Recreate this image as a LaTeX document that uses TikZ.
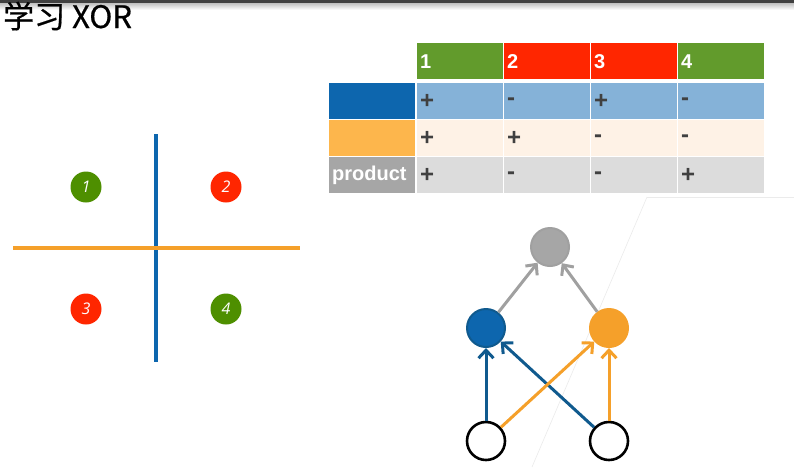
\documentclass[tikz,border=0pt]{standalone}
\usepackage{fontspec}
\newfontfamily\cjk[FakeBold=0.6]{Noto Sans CJK SC}
\newfontfamily\tabfont{Liberation Sans}
\newfontfamily\numfont{Open Sans}
\usetikzlibrary{arrows.meta}
\definecolor{hdgreen}{HTML}{629B2C}
\definecolor{hdred}{HTML}{FF2600}
\definecolor{keyblue}{HTML}{0D66AE}
\definecolor{paleblue}{HTML}{85B2D8}
\definecolor{keyorange}{HTML}{FDB64C}
\definecolor{paleorange}{HTML}{FEF2E6}
\definecolor{keygray}{HTML}{A6A6A6}
\definecolor{palegray}{HTML}{DCDCDC}
\definecolor{signtext}{HTML}{404040}
\definecolor{dotgreen}{HTML}{4E8F00}
\definecolor{axisorange}{HTML}{F5A02A}
\definecolor{edgeblue}{HTML}{105A8E}
\definecolor{edgegray}{HTML}{A0A0A0}
\tikzset{
  cell/.style = {anchor = north west, minimum height = 36pt, text width = 80pt,
    inner xsep = 3pt, inner ysep = 0pt, align = left,
    font = \tabfont\bfseries\fontsize{24}{24}\selectfont, text = signtext},
  hdr/.style = {cell, text = white, font = \tabfont\bfseries\fontsize{20}{20}\selectfont},
  dot/.style = {circle, minimum size = 31pt, inner sep = 0pt, text = white,
    font = \numfont\itshape\fontsize{16}{16}\selectfont},
  unit/.style = {circle, minimum size = 38pt, inner sep = 0pt, line width = 2pt},
  link/.style = {line width = 3pt, -{Straight Barb[length = 8pt, width = 15pt]}}
}
\begin{document}
\begin{tikzpicture}[x = 1pt, y = -1pt]
    \useasboundingbox (0,0) rectangle (794,467);
    \fill[white] (0,0) rectangle (794,467);
    \shade[top color = black!25, bottom color = white] (0,3) rectangle (794,10);
    \fill[black!75] (0,0) rectangle (794,3);
    \node[anchor = base west, inner sep = 0pt, font = \cjk\fontsize{31}{31}\selectfont] (title) at (3,28) {学习 XOR};
    \begin{scope}[style = {draw = black!8, line width = 0.6pt}]
        \draw (647,197) -- (532,467);
        \draw (647,197) -- (794,197);
    \end{scope}
    \node[hdr, fill = hdgreen] (h1) at (417,43) {1};
    \node[hdr, fill = hdred] (h2) at (504,43) {2};
    \node[hdr, fill = hdred] (h3) at (591,43) {3};
    \node[hdr, fill = hdgreen] (h4) at (678,43) {4};
    \begin{scope}[every node/.append style = {fill = paleblue}]
        \node[cell, fill = keyblue] (k1) at (329,83) {};
        \node[cell] (r1c1) at (417,83) {+};
        \node[cell] (r1c2) at (504,83) {-};
        \node[cell] (r1c3) at (591,83) {+};
        \node[cell] (r1c4) at (678,83) {-};
    \end{scope}
    \begin{scope}[every node/.append style = {fill = paleorange}]
        \node[cell, fill = keyorange] (k2) at (329,120) {};
        \node[cell] (r2c1) at (417,120) {+};
        \node[cell] (r2c2) at (504,120) {+};
        \node[cell] (r2c3) at (591,120) {-};
        \node[cell] (r2c4) at (678,120) {-};
    \end{scope}
    \begin{scope}[every node/.append style = {fill = palegray}]
        \node[hdr, fill = keygray] (k3) at (329,157) {product};
        \node[cell] (r3c1) at (417,157) {+};
        \node[cell] (r3c2) at (504,157) {-};
        \node[cell] (r3c3) at (591,157) {-};
        \node[cell] (r3c4) at (678,157) {+};
    \end{scope}
    \draw[keyblue, line width = 4pt] (156,134) -- (156,362);
    \draw[axisorange, line width = 4pt] (13,248) -- (300,248);
    \node[dot, fill = dotgreen] (p1) at (86,187) {1};
    \node[dot, fill = hdred] (p2) at (226,187) {2};
    \node[dot, fill = hdred] (p3) at (86,309) {3};
    \node[dot, fill = dotgreen] (p4) at (226,309) {4};
    \node[unit, draw = edgegray, fill = keygray] (out) at (550,247) {};
    \node[unit, draw = edgeblue, fill = keyblue] (hb) at (486,328) {};
    \node[unit, draw = axisorange, fill = axisorange] (ho) at (609,328) {};
    \node[unit, draw = black, fill = white, line width = 2.6pt] (in1) at (486,441) {};
    \node[unit, draw = black, fill = white, line width = 2.6pt] (in2) at (609,441) {};
    \draw[link, edgeblue] (in1) -- (hb);
    \draw[link, edgeblue] (in2) -- (hb);
    \draw[link, axisorange] (in1) -- (ho);
    \draw[link, axisorange] (in2) -- (ho);
    \draw[link, edgegray] (hb) -- (out);
    \draw[link, edgegray] (ho) -- (out);
\end{tikzpicture}
\end{document}
